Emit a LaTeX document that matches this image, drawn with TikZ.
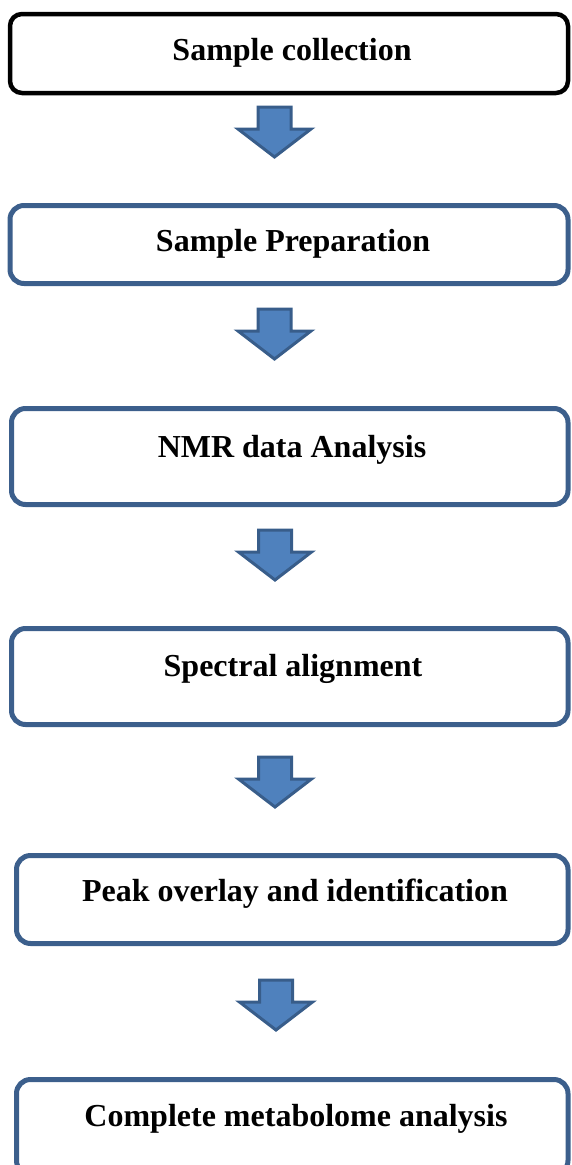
\documentclass[tikz,border=0pt]{standalone}
\usepackage{fontspec}
\setmainfont{Liberation Serif}
\definecolor{boxblue}{HTML}{3C5F8C}
\definecolor{arrfill}{HTML}{4F81BD}
\definecolor{arrdraw}{HTML}{385D8A}
\begin{document}
\begin{tikzpicture}[x=1pt,y=-1pt,
  box/.style={draw=boxblue,line width=5pt,rounded corners=14pt,inner sep=0pt},
  firstbox/.style={box,draw=black,line width=4.5pt,rounded corners=12pt},
  txt/.style={anchor=base,inner sep=0pt,font=\fontsize{32}{38}\selectfont\bfseries},
  downarr/.pic={\draw[fill=arrfill,draw=arrdraw,line width=3pt,line join=miter]
     (-16.5,0) -- (16.5,0) -- (16.5,22) -- (36.5,22) -- (0,50) -- (-36.5,22) -- (-16.5,22) -- cycle;}]
\useasboundingbox (0,0) rectangle (571,1165);
\node[firstbox,minimum width=558pt,minimum height=79pt] (b1) at (289,53.5) {};
\node[box,minimum width=558pt,minimum height=78pt] (b2) at (289,244.5) {};
\node[box,minimum width=556.5pt,minimum height=96pt] (b3) at (289.75,456.5) {};
\node[box,minimum width=556.5pt,minimum height=96pt] (b4) at (289.75,676.5) {};
\node[box,minimum width=551.5pt,minimum height=88pt] (b5) at (292.25,899.5) {};
\node[box,minimum width=551.5pt,minimum height=95pt] (b6) at (292.25,1127) {};
\node[txt] (t1) at (292,60) {Sample collection};
\node[txt] (t2) at (293,251) {Sample Preparation};
\node[txt] (t3) at (292,457) {NMR data Analysis};
\node[txt] (t4) at (293,676) {Spectral alignment};
\node[txt] (t5) at (295,901) {Peak overlay and identification};
\node[txt] (t6) at (296,1126) {Complete metabolome analysis};
\pic at (274.5,107) {downarr};
\pic at (274.5,309) {downarr};
\pic at (275,530) {downarr};
\pic at (275,757) {downarr};
\pic at (276,980) {downarr};
\end{tikzpicture}
\end{document}
